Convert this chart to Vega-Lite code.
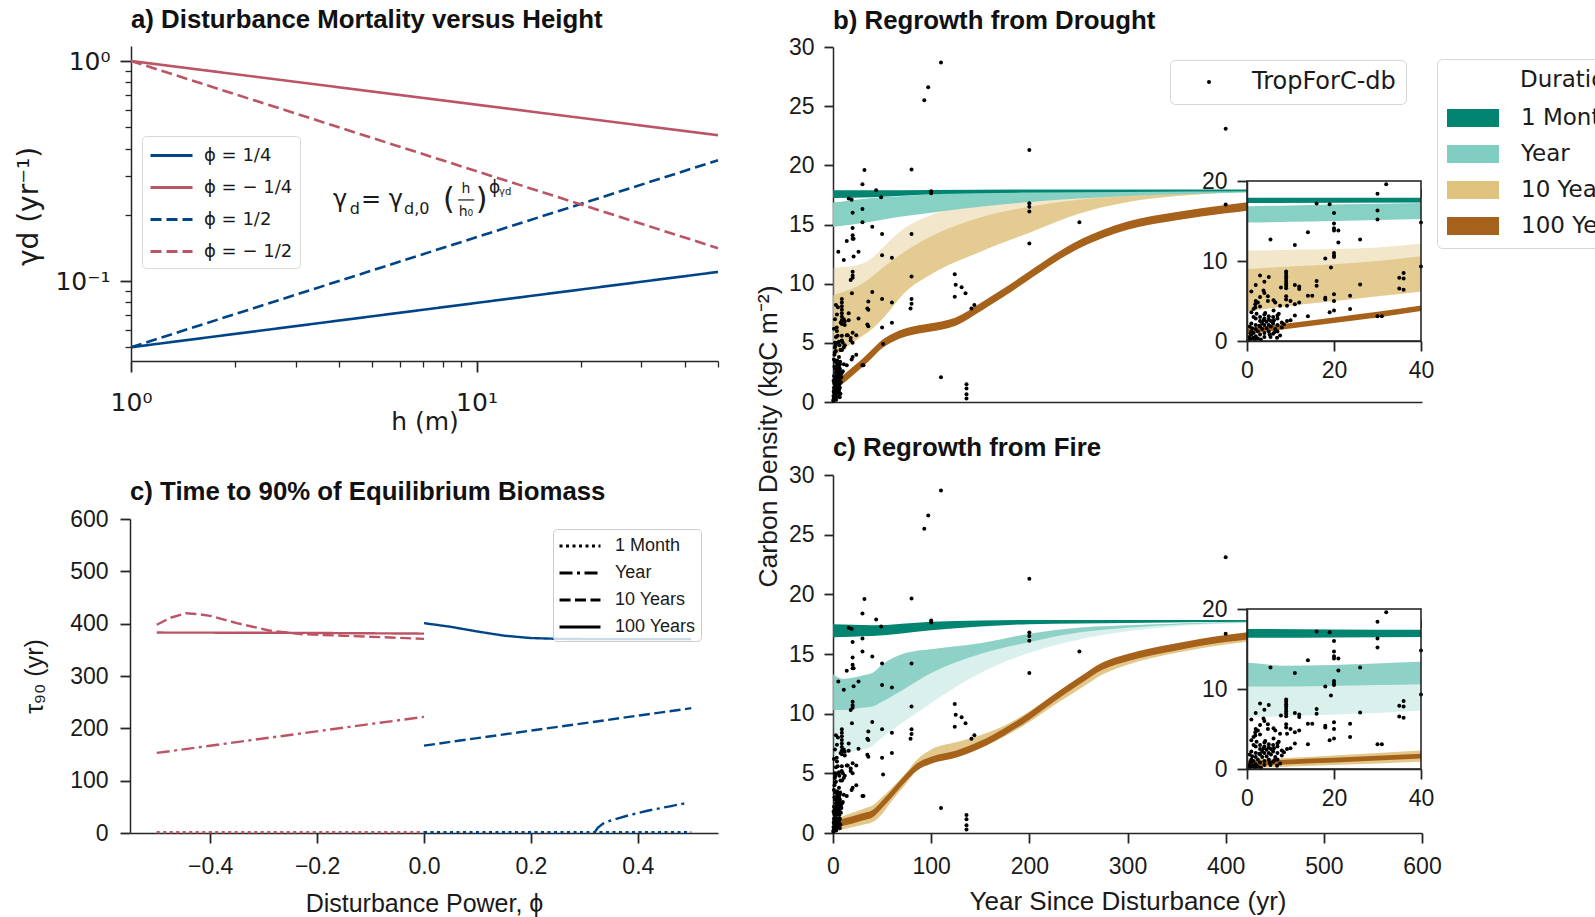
{
  "$schema": "https://vega.github.io/schema/vega-lite/v6.json",
  "width": 1595,
  "height": 917,
  "autosize": {"type": "none"},
  "padding": 0,
  "background": "white",
  "usermeta": {"embedOptions": {"actions": false}},
  "config": {
    "font": "Liberation Sans",
    "view": {"stroke": null},
    "axis": {"grid": false, "labelFlush": false, "labelOverlap": false, "labelBound": false, "domainColor": "#262626", "tickColor": "#262626", "labelColor": "#1a1a1a", "titleColor": "#1a1a1a", "titleFontWeight": "normal", "domainWidth": 1.5, "tickWidth": 1.6, "labelFont": "Liberation Sans", "titleFont": "Liberation Sans"},
    "legend": {"labelColor": "#1a1a1a", "titleColor": "#1a1a1a"}
  },
  "datasets": {
    "a_lines": [
      {"phi": "ϕ = 1/4", "h": 1, "g": 0.05}, {"phi": "ϕ = 1/4", "h": 50, "g": 0.11},
      {"phi": "ϕ = − 1/4", "h": 1, "g": 1.0}, {"phi": "ϕ = − 1/4", "h": 50, "g": 0.46},
      {"phi": "ϕ = 1/2", "h": 1, "g": 0.05}, {"phi": "ϕ = 1/2", "h": 50, "g": 0.354},
      {"phi": "ϕ = − 1/2", "h": 1, "g": 1.0}, {"phi": "ϕ = − 1/2", "h": 50, "g": 0.141}
    ],
    "formula": [
      {"k": "big", "t": "γ", "h": 3.84, "g": 0.234},
      {"k": "big", "t": "= γ", "h": 4.63, "g": 0.234},
      {"k": "paren", "t": "(", "h": 8.0, "g": 0.234},
      {"k": "paren", "t": ")", "h": 9.95, "g": 0.234},
      {"k": "sub", "t": "d", "h": 4.3, "g": 0.2125},
      {"k": "sub", "t": "d,0", "h": 6.17, "g": 0.2125},
      {"k": "frac", "t": "h", "h": 9.32, "g": 0.262},
      {"k": "frac", "t": "h₀", "h": 9.32, "g": 0.205},
      {"k": "sup", "t": "ϕ", "h": 10.87, "g": 0.2647},
      {"k": "tiny", "t": "γd", "h": 11.62, "g": 0.2538}
    ],
    "fracbar": [{"h": 8.85, "h2": 9.85, "g": 0.2336}],
    "titles": [
      {"p": "a", "txt": "a) Disturbance Mortality versus Height"},
      {"p": "c", "txt": "c) Time to 90% of Equilibrium Biomass"},
      {"p": "b", "txt": "b) Regrowth from Drought"},
      {"p": "d", "txt": "c) Regrowth from Fire"}
    ],
    "c_lines": [
      {"sgn": "neg", "dur": "100 Years", "phi": -0.5, "tau": 383}, {"sgn": "neg", "dur": "100 Years", "phi": -0.25, "tau": 382.5}, {"sgn": "neg", "dur": "100 Years", "phi": 0, "tau": 381},
      {"sgn": "neg", "dur": "10 Years", "phi": -0.5, "tau": 398}, {"sgn": "neg", "dur": "10 Years", "phi": -0.475, "tau": 411}, {"sgn": "neg", "dur": "10 Years", "phi": -0.445, "tau": 420}, {"sgn": "neg", "dur": "10 Years", "phi": -0.42, "tau": 418}, {"sgn": "neg", "dur": "10 Years", "phi": -0.4, "tau": 415}, {"sgn": "neg", "dur": "10 Years", "phi": -0.35, "tau": 401}, {"sgn": "neg", "dur": "10 Years", "phi": -0.29, "tau": 387}, {"sgn": "neg", "dur": "10 Years", "phi": -0.23, "tau": 380}, {"sgn": "neg", "dur": "10 Years", "phi": -0.15, "tau": 377}, {"sgn": "neg", "dur": "10 Years", "phi": -0.05, "tau": 373}, {"sgn": "neg", "dur": "10 Years", "phi": 0, "tau": 371},
      {"sgn": "neg", "dur": "Year", "phi": -0.5, "tau": 153}, {"sgn": "neg", "dur": "Year", "phi": 0, "tau": 222},
      {"sgn": "neg", "dur": "1 Month", "phi": -0.5, "tau": 1.5}, {"sgn": "neg", "dur": "1 Month", "phi": 0, "tau": 1.5},
      {"sgn": "pos", "dur": "100 Years", "phi": 0, "tau": 401}, {"sgn": "pos", "dur": "100 Years", "phi": 0.05, "tau": 394}, {"sgn": "pos", "dur": "100 Years", "phi": 0.1, "tau": 385}, {"sgn": "pos", "dur": "100 Years", "phi": 0.15, "tau": 377}, {"sgn": "pos", "dur": "100 Years", "phi": 0.2, "tau": 372.5}, {"sgn": "pos", "dur": "100 Years", "phi": 0.25, "tau": 371}, {"sgn": "pos", "dur": "100 Years", "phi": 0.3, "tau": 370.5}, {"sgn": "pos", "dur": "100 Years", "phi": 0.4, "tau": 370.5}, {"sgn": "pos", "dur": "100 Years", "phi": 0.5, "tau": 370.5},
      {"sgn": "pos", "dur": "10 Years", "phi": 0, "tau": 167}, {"sgn": "pos", "dur": "10 Years", "phi": 0.5, "tau": 238.5},
      {"sgn": "pos", "dur": "Year", "phi": 0.32, "tau": 2}, {"sgn": "pos", "dur": "Year", "phi": 0.325, "tau": 10}, {"sgn": "pos", "dur": "Year", "phi": 0.335, "tau": 18}, {"sgn": "pos", "dur": "Year", "phi": 0.35, "tau": 24}, {"sgn": "pos", "dur": "Year", "phi": 0.38, "tau": 33}, {"sgn": "pos", "dur": "Year", "phi": 0.42, "tau": 43}, {"sgn": "pos", "dur": "Year", "phi": 0.46, "tau": 51}, {"sgn": "pos", "dur": "Year", "phi": 0.49, "tau": 57},
      {"sgn": "pos", "dur": "1 Month", "phi": 0, "tau": 1.5}, {"sgn": "pos", "dur": "1 Month", "phi": 0.5, "tau": 1.5}
    ],
    "bands": [
      {"p": "b", "dur": "1 Month", "t": 0, "lo": 17.25, "hi": 17.9}, {"p": "b", "dur": "1 Month", "t": 40, "lo": 17.3, "hi": 17.9}, {"p": "b", "dur": "1 Month", "t": 100, "lo": 17.55, "hi": 17.92}, {"p": "b", "dur": "1 Month", "t": 200, "lo": 17.7, "hi": 17.95}, {"p": "b", "dur": "1 Month", "t": 300, "lo": 17.75, "hi": 17.95}, {"p": "b", "dur": "1 Month", "t": 420, "lo": 17.8, "hi": 17.95}, {"p": "b", "dur": "1 Month", "t": 600, "lo": 17.85, "hi": 17.95},
      {"p": "b", "dur": "Year", "t": 0, "lo": 14.8, "hi": 16.85}, {"p": "b", "dur": "Year", "t": 10, "lo": 14.9, "hi": 16.95}, {"p": "b", "dur": "Year", "t": 20, "lo": 15.0, "hi": 17.05}, {"p": "b", "dur": "Year", "t": 40, "lo": 15.25, "hi": 17.25}, {"p": "b", "dur": "Year", "t": 60, "lo": 15.55, "hi": 17.35}, {"p": "b", "dur": "Year", "t": 100, "lo": 16.0, "hi": 17.55}, {"p": "b", "dur": "Year", "t": 150, "lo": 16.5, "hi": 17.7}, {"p": "b", "dur": "Year", "t": 200, "lo": 16.9, "hi": 17.8}, {"p": "b", "dur": "Year", "t": 300, "lo": 17.4, "hi": 17.9}, {"p": "b", "dur": "Year", "t": 420, "lo": 17.7, "hi": 17.9}, {"p": "b", "dur": "Year", "t": 600, "lo": 17.85, "hi": 17.95},
      {"p": "b", "dur": "10 Years", "t": 0, "lo": 3.7, "mid": 9.0, "hi": 11.3}, {"p": "b", "dur": "10 Years", "t": 10, "lo": 4.4, "mid": 9.3, "hi": 11.4}, {"p": "b", "dur": "10 Years", "t": 20, "lo": 5.0, "mid": 9.6, "hi": 11.5}, {"p": "b", "dur": "10 Years", "t": 30, "lo": 5.6, "mid": 10.0, "hi": 11.7}, {"p": "b", "dur": "10 Years", "t": 40, "lo": 6.2, "mid": 10.6, "hi": 12.2}, {"p": "b", "dur": "10 Years", "t": 50, "lo": 7.0, "mid": 11.3, "hi": 13.0}, {"p": "b", "dur": "10 Years", "t": 75, "lo": 9.4, "mid": 12.8, "hi": 14.8}, {"p": "b", "dur": "10 Years", "t": 100, "lo": 10.8, "mid": 14.0, "hi": 15.8}, {"p": "b", "dur": "10 Years", "t": 150, "lo": 12.7, "mid": 15.6, "hi": 16.9}, {"p": "b", "dur": "10 Years", "t": 200, "lo": 14.3, "mid": 16.5, "hi": 17.3}, {"p": "b", "dur": "10 Years", "t": 250, "lo": 15.9, "mid": 17.1, "hi": 17.5}, {"p": "b", "dur": "10 Years", "t": 300, "lo": 16.9, "mid": 17.4, "hi": 17.6}, {"p": "b", "dur": "10 Years", "t": 350, "lo": 17.4, "mid": 17.6, "hi": 17.7}, {"p": "b", "dur": "10 Years", "t": 420, "lo": 17.75, "mid": 17.8, "hi": 17.85}, {"p": "b", "dur": "10 Years", "t": 600, "lo": 17.9, "mid": 17.9, "hi": 17.95},
      {"p": "b", "dur": "100 Years", "t": 0, "lo": 0.85, "hi": 1.55}, {"p": "b", "dur": "100 Years", "t": 10, "lo": 1.55, "hi": 2.25}, {"p": "b", "dur": "100 Years", "t": 20, "lo": 2.25, "hi": 2.95}, {"p": "b", "dur": "100 Years", "t": 30, "lo": 2.95, "hi": 3.65}, {"p": "b", "dur": "100 Years", "t": 40, "lo": 3.75, "hi": 4.45}, {"p": "b", "dur": "100 Years", "t": 50, "lo": 4.55, "hi": 5.25}, {"p": "b", "dur": "100 Years", "t": 60, "lo": 5.05, "hi": 5.75}, {"p": "b", "dur": "100 Years", "t": 75, "lo": 5.55, "hi": 6.25}, {"p": "b", "dur": "100 Years", "t": 100, "lo": 5.95, "hi": 6.65}, {"p": "b", "dur": "100 Years", "t": 125, "lo": 6.45, "hi": 7.15}, {"p": "b", "dur": "100 Years", "t": 150, "lo": 7.65, "hi": 8.35}, {"p": "b", "dur": "100 Years", "t": 175, "lo": 8.95, "hi": 9.65}, {"p": "b", "dur": "100 Years", "t": 200, "lo": 10.35, "hi": 11.05}, {"p": "b", "dur": "100 Years", "t": 225, "lo": 11.75, "hi": 12.45}, {"p": "b", "dur": "100 Years", "t": 250, "lo": 12.95, "hi": 13.65}, {"p": "b", "dur": "100 Years", "t": 275, "lo": 13.85, "hi": 14.55}, {"p": "b", "dur": "100 Years", "t": 300, "lo": 14.55, "hi": 15.25}, {"p": "b", "dur": "100 Years", "t": 350, "lo": 15.35, "hi": 16.05}, {"p": "b", "dur": "100 Years", "t": 400, "lo": 15.95, "hi": 16.65}, {"p": "b", "dur": "100 Years", "t": 420, "lo": 16.15, "hi": 16.85}, {"p": "b", "dur": "100 Years", "t": 600, "lo": 17.25, "hi": 17.95},
      {"p": "d", "dur": "1 Month", "t": 0, "lo": 16.4, "hi": 17.5}, {"p": "d", "dur": "1 Month", "t": 20, "lo": 16.45, "hi": 17.45}, {"p": "d", "dur": "1 Month", "t": 40, "lo": 16.5, "hi": 17.4}, {"p": "d", "dur": "1 Month", "t": 100, "lo": 17.0, "hi": 17.7}, {"p": "d", "dur": "1 Month", "t": 150, "lo": 17.3, "hi": 17.8}, {"p": "d", "dur": "1 Month", "t": 200, "lo": 17.5, "hi": 17.85}, {"p": "d", "dur": "1 Month", "t": 300, "lo": 17.6, "hi": 17.85}, {"p": "d", "dur": "1 Month", "t": 420, "lo": 17.7, "hi": 17.85}, {"p": "d", "dur": "1 Month", "t": 600, "lo": 17.8, "hi": 17.9},
      {"p": "d", "dur": "Year", "t": 0, "lo": 6.5, "mid": 10.3, "hi": 13.3}, {"p": "d", "dur": "Year", "t": 10, "lo": 6.6, "mid": 10.3, "hi": 12.9}, {"p": "d", "dur": "Year", "t": 20, "lo": 6.8, "mid": 10.4, "hi": 13.0}, {"p": "d", "dur": "Year", "t": 30, "lo": 7.0, "mid": 10.5, "hi": 13.2}, {"p": "d", "dur": "Year", "t": 40, "lo": 7.3, "mid": 10.6, "hi": 13.4}, {"p": "d", "dur": "Year", "t": 50, "lo": 8.0, "mid": 11.0, "hi": 14.1}, {"p": "d", "dur": "Year", "t": 75, "lo": 9.5, "mid": 12.2, "hi": 15.1}, {"p": "d", "dur": "Year", "t": 100, "lo": 10.9, "mid": 13.4, "hi": 15.4}, {"p": "d", "dur": "Year", "t": 150, "lo": 13.4, "mid": 15.0, "hi": 15.9}, {"p": "d", "dur": "Year", "t": 200, "lo": 15.1, "mid": 16.0, "hi": 16.7}, {"p": "d", "dur": "Year", "t": 250, "lo": 16.2, "mid": 16.8, "hi": 17.2}, {"p": "d", "dur": "Year", "t": 300, "lo": 16.9, "mid": 17.2, "hi": 17.4}, {"p": "d", "dur": "Year", "t": 420, "lo": 17.6, "mid": 17.65, "hi": 17.7}, {"p": "d", "dur": "Year", "t": 600, "lo": 17.85, "mid": 17.85, "hi": 17.9},
      {"p": "d", "dur": "10 Years", "t": 0, "lo": 0.1, "hi": 1.2}, {"p": "d", "dur": "10 Years", "t": 10, "lo": 0.3, "hi": 1.4}, {"p": "d", "dur": "10 Years", "t": 20, "lo": 0.5, "hi": 1.7}, {"p": "d", "dur": "10 Years", "t": 30, "lo": 0.7, "hi": 2.0}, {"p": "d", "dur": "10 Years", "t": 40, "lo": 0.9, "hi": 2.3}, {"p": "d", "dur": "10 Years", "t": 50, "lo": 1.6, "hi": 3.0}, {"p": "d", "dur": "10 Years", "t": 60, "lo": 2.7, "hi": 3.8}, {"p": "d", "dur": "10 Years", "t": 75, "lo": 4.2, "hi": 5.1}, {"p": "d", "dur": "10 Years", "t": 85, "lo": 5.2, "hi": 6.1}, {"p": "d", "dur": "10 Years", "t": 100, "lo": 5.9, "hi": 7.0}, {"p": "d", "dur": "10 Years", "t": 125, "lo": 6.4, "hi": 7.6}, {"p": "d", "dur": "10 Years", "t": 150, "lo": 7.1, "hi": 8.2}, {"p": "d", "dur": "10 Years", "t": 175, "lo": 8.1, "hi": 9.0}, {"p": "d", "dur": "10 Years", "t": 200, "lo": 9.3, "hi": 10.2}, {"p": "d", "dur": "10 Years", "t": 225, "lo": 10.7, "hi": 11.6}, {"p": "d", "dur": "10 Years", "t": 250, "lo": 12.0, "hi": 12.9}, {"p": "d", "dur": "10 Years", "t": 275, "lo": 13.3, "hi": 14.1}, {"p": "d", "dur": "10 Years", "t": 300, "lo": 14.1, "hi": 14.8}, {"p": "d", "dur": "10 Years", "t": 350, "lo": 15.1, "hi": 15.6}, {"p": "d", "dur": "10 Years", "t": 400, "lo": 15.8, "hi": 16.3}, {"p": "d", "dur": "10 Years", "t": 420, "lo": 16.0, "hi": 16.5}, {"p": "d", "dur": "10 Years", "t": 600, "lo": 17.3, "hi": 17.6},
      {"p": "d", "dur": "100 Years", "t": 0, "lo": 0.4, "hi": 1.0}, {"p": "d", "dur": "100 Years", "t": 10, "lo": 0.6, "hi": 1.2}, {"p": "d", "dur": "100 Years", "t": 20, "lo": 0.8, "hi": 1.4}, {"p": "d", "dur": "100 Years", "t": 30, "lo": 1.05, "hi": 1.65}, {"p": "d", "dur": "100 Years", "t": 40, "lo": 1.3, "hi": 1.9}, {"p": "d", "dur": "100 Years", "t": 50, "lo": 2.1, "hi": 2.7}, {"p": "d", "dur": "100 Years", "t": 60, "lo": 3.0, "hi": 3.6}, {"p": "d", "dur": "100 Years", "t": 75, "lo": 4.4, "hi": 5.0}, {"p": "d", "dur": "100 Years", "t": 85, "lo": 5.2, "hi": 5.8}, {"p": "d", "dur": "100 Years", "t": 100, "lo": 5.8, "hi": 6.4}, {"p": "d", "dur": "100 Years", "t": 125, "lo": 6.3, "hi": 6.9}, {"p": "d", "dur": "100 Years", "t": 150, "lo": 7.1, "hi": 7.7}, {"p": "d", "dur": "100 Years", "t": 175, "lo": 8.2, "hi": 8.8}, {"p": "d", "dur": "100 Years", "t": 200, "lo": 9.5, "hi": 10.1}, {"p": "d", "dur": "100 Years", "t": 225, "lo": 11.0, "hi": 11.6}, {"p": "d", "dur": "100 Years", "t": 250, "lo": 12.4, "hi": 13.0}, {"p": "d", "dur": "100 Years", "t": 275, "lo": 13.7, "hi": 14.3}, {"p": "d", "dur": "100 Years", "t": 300, "lo": 14.4, "hi": 15.0}, {"p": "d", "dur": "100 Years", "t": 350, "lo": 15.3, "hi": 15.9}, {"p": "d", "dur": "100 Years", "t": 400, "lo": 16.0, "hi": 16.6}, {"p": "d", "dur": "100 Years", "t": 420, "lo": 16.2, "hi": 16.8}, {"p": "d", "dur": "100 Years", "t": 600, "lo": 17.2, "hi": 17.8}
    ],
    "scatter": [
      {"t": 110, "v": 28.7}, {"t": 97, "v": 26.6}, {"t": 93, "v": 25.5}, {"t": 400, "v": 23.1}, {"t": 200, "v": 21.3}, {"t": 32, "v": 19.6}, {"t": 80, "v": 19.65}, {"t": 30, "v": 18.4}, {"t": 44, "v": 17.9}, {"t": 100, "v": 17.8}, {"t": 100, "v": 17.65}, {"t": 49, "v": 17.3}, {"t": 16, "v": 17.2}, {"t": 19, "v": 17.1}, {"t": 200, "v": 16.8}, {"t": 200, "v": 16.5}, {"t": 200, "v": 16.1}, {"t": 400, "v": 16.7}, {"t": 20, "v": 16.0}, {"t": 30, "v": 16.3}, {"t": 30, "v": 15.2}, {"t": 251, "v": 15.2}, {"t": 20, "v": 14.7}, {"t": 40, "v": 14.8}, {"t": 50, "v": 14.2}, {"t": 80, "v": 14.2}, {"t": 20, "v": 14.1}, {"t": 20, "v": 13.8}, {"t": 21, "v": 13.8}, {"t": 14, "v": 13.6}, {"t": 200, "v": 13.4}, {"t": 5.4, "v": 12.7}, {"t": 26, "v": 12.7}, {"t": 21, "v": 12.3}, {"t": 11, "v": 12.0}, {"t": 60, "v": 12.2}, {"t": 50, "v": 12.4}, {"t": 20, "v": 11.0}, {"t": 20, "v": 10.7}, {"t": 20, "v": 10.5}, {"t": 18, "v": 10.3}, {"t": 124, "v": 10.8}, {"t": 80, "v": 10.6}, {"t": 125, "v": 9.9}, {"t": 131, "v": 9.7}, {"t": 124, "v": 8.9}, {"t": 135, "v": 9.2}, {"t": 19.3, "v": 9.2}, {"t": 40, "v": 9.3}, {"t": 36, "v": 8.5}, {"t": 50, "v": 8.7}, {"t": 80, "v": 8.7}, {"t": 80, "v": 8.3}, {"t": 79, "v": 7.9}, {"t": 60, "v": 8.4}, {"t": 144, "v": 8.2}, {"t": 141, "v": 7.9}, {"t": 36, "v": 7.8}, {"t": 35, "v": 7.9}, {"t": 35, "v": 6.55}, {"t": 26, "v": 7.05}, {"t": 16, "v": 7.5}, {"t": 16, "v": 6.9}, {"t": 60, "v": 6.7}, {"t": 36, "v": 6.4}, {"t": 50, "v": 6.3}, {"t": 51, "v": 4.9}, {"t": 31, "v": 3.1}, {"t": 110, "v": 2.1}, {"t": 136, "v": 1.5}, {"t": 136, "v": 1.15}, {"t": 136, "v": 0.65}, {"t": 136, "v": 0.3},
      {"t": 5, "v": 8.0}, {"t": 9, "v": 8.7}, {"t": 9, "v": 8.4}, {"t": 9, "v": 8.1}, {"t": 9, "v": 7.8}, {"t": 9, "v": 7.5}, {"t": 9, "v": 7.2}, {"t": 9, "v": 6.9}, {"t": 9, "v": 6.6}, {"t": 3.8, "v": 6.3}, {"t": 7.8, "v": 6.7}, {"t": 11, "v": 7.0}, {"t": 12, "v": 6.8}, {"t": 12, "v": 6.5}, {"t": 4.8, "v": 5.6}, {"t": 4.8, "v": 5.0}, {"t": 6.1, "v": 5.1}, {"t": 6.5, "v": 4.8}, {"t": 9, "v": 5.6}, {"t": 9, "v": 5.2}, {"t": 14, "v": 5.65}, {"t": 15, "v": 5.65}, {"t": 18, "v": 5.4}, {"t": 18, "v": 5.2}, {"t": 20, "v": 5.85}, {"t": 20, "v": 5.0}, {"t": 23.7, "v": 5.65}, {"t": 10, "v": 5.0}, {"t": 11, "v": 4.6}, {"t": 12, "v": 4.8}, {"t": 1.9, "v": 4.6}, {"t": 1.9, "v": 4.2}, {"t": 7.6, "v": 4.4}, {"t": 9.2, "v": 4.4}, {"t": 20, "v": 3.8}, {"t": 19, "v": 3.6}, {"t": 23.7, "v": 4.0}, {"t": 6.1, "v": 3.8}, {"t": 14, "v": 3.1}, {"t": 30, "v": 3.1}, {"t": 11, "v": 3.2}, {"t": 10, "v": 2.6}, {"t": 9.2, "v": 2.5}, {"t": 7, "v": 3.2}, {"t": 7, "v": 2.8}, {"t": 5.4, "v": 0.5}, {"t": 6.9, "v": 0.4}, {"t": 7.6, "v": 0.7}, {"t": 6.3, "v": 1.1}, {"t": 8, "v": 1.7},
      {"t": 0.5, "v": 0.2}, {"t": 0.5, "v": 0.5}, {"t": 1, "v": 0.3}, {"t": 1, "v": 0.8}, {"t": 1, "v": 1.2}, {"t": 1.5, "v": 0.4}, {"t": 1.5, "v": 1.0}, {"t": 2, "v": 0.6}, {"t": 2, "v": 1.5}, {"t": 2, "v": 2.0}, {"t": 2.5, "v": 0.3}, {"t": 2.5, "v": 1.2}, {"t": 3, "v": 0.8}, {"t": 3, "v": 1.8}, {"t": 3, "v": 2.5}, {"t": 3, "v": 3.0}, {"t": 3.5, "v": 1.5}, {"t": 3.5, "v": 2.2}, {"t": 4, "v": 0.5}, {"t": 4, "v": 1.0}, {"t": 4, "v": 2.0}, {"t": 4, "v": 2.8}, {"t": 4, "v": 3.3}, {"t": 4.5, "v": 1.6}, {"t": 4.5, "v": 2.4}, {"t": 5, "v": 1.2}, {"t": 5, "v": 2.0}, {"t": 5, "v": 2.7}, {"t": 5, "v": 3.1}, {"t": 5.5, "v": 1.8}, {"t": 5.5, "v": 2.5}, {"t": 6, "v": 0.9}, {"t": 6, "v": 2.2}, {"t": 6, "v": 3.0}, {"t": 6.5, "v": 1.5}, {"t": 7, "v": 2.0}, {"t": 7, "v": 1.2}, {"t": 8, "v": 2.3}, {"t": 1, "v": 2.2}, {"t": 2, "v": 2.8}, {"t": 0.3, "v": 0.1}, {"t": 0.8, "v": 0.9}, {"t": 1.2, "v": 1.6}, {"t": 1.8, "v": 0.2}, {"t": 2.2, "v": 3.4}, {"t": 3.2, "v": 0.2}, {"t": 4.2, "v": 3.5}, {"t": 5.2, "v": 0.8}, {"t": 3.8, "v": 2.6}, {"t": 2.8, "v": 1.9}, {"t": 6.2, "v": 2.6}, {"t": 7.3, "v": 3.4}, {"t": 8.5, "v": 2.1}, {"t": 1.5, "v": 3.0}, {"t": 0.6, "v": 1.8}, {"t": 2, "v": 5.0}, {"t": 3, "v": 5.5}, {"t": 4, "v": 6.0}, {"t": 1.5, "v": 4.0}, {"t": 2.5, "v": 4.8}, {"t": 3, "v": 4.3}, {"t": 1, "v": 3.6}, {"t": 2, "v": 7.0}, {"t": 4, "v": 7.4}, {"t": 1, "v": 6.2}, {"t": 3, "v": 8.2}
    ]
  },
  "resolve": {
    "scale": {"x": "independent", "y": "independent", "color": "independent", "strokeDash": "independent", "shape": "independent"},
    "axis": {"x": "independent", "y": "independent"}
  },
  "layer": [
    {
      "resolve": {"axis": {"x": "independent", "y": "independent"}},
      "layer": [
        {
          "data": {"name": "a_lines"},
          "mark": {"type": "line", "strokeWidth": 2.6},
          "encoding": {
            "x": {"field": "h", "type": "quantitative",
              "scale": {"type": "log", "domain": [1, 50], "range": [131, 718], "nice": false},
              "axis": {"orient": "bottom", "offset": -556, "values": [1, 10], "labelExpr": "datum.value < 5 ? '10⁰' : '10¹'", "tickSize": 11, "tickWidth": 1.8, "labelFont": "DejaVu Sans", "labelFontSize": 25, "labelPadding": 18, "title": "h (m)", "titleFont": "DejaVu Sans", "titleFontSize": 25, "titleY": 60, "titleBaseline": "middle"}},
            "y": {"field": "g", "type": "quantitative",
              "scale": {"type": "log", "domain": [0.0433, 1.17], "range": [361, 46], "nice": false},
              "axis": {"orient": "left", "offset": -131, "values": [0.1, 1], "labelExpr": "datum.value > 0.5 ? '10⁰' : '10⁻¹'", "tickSize": 11, "tickWidth": 1.8, "labelFont": "DejaVu Sans", "labelFontSize": 25, "labelPadding": 10, "title": "γd (yr⁻¹)", "titleFont": "DejaVu Sans", "titleFontSize": 28, "titleX": -102, "titleY": 206, "titleBaseline": "middle"}},
            "color": {"field": "phi", "type": "nominal",
              "scale": {"domain": ["ϕ = 1/4", "ϕ = − 1/4", "ϕ = 1/2", "ϕ = − 1/2"], "range": ["#004488", "#BB5566", "#004488", "#BB5566"]},
              "legend": {"orient": "none", "legendX": 142, "legendY": 136, "title": null, "symbolType": "M-2,0H2", "symbolSize": 441, "symbolStrokeWidth": 3.2, "symbolOffset": 10, "labelFont": "DejaVu Sans", "labelFontSize": 18, "labelOffset": 20, "rowPadding": 10, "padding": 7, "fillColor": "white", "strokeColor": "#d9d9d9", "cornerRadius": 4}},
            "strokeDash": {"field": "phi", "type": "nominal",
              "scale": {"domain": ["ϕ = 1/4", "ϕ = − 1/4", "ϕ = 1/2", "ϕ = − 1/2"], "range": [[1, 0], [1, 0], [11, 5], [11, 5]]},
              "legend": {"orient": "none", "legendX": 142, "legendY": 136, "title": null, "symbolType": "M-2,0H2", "symbolSize": 441, "symbolStrokeWidth": 3.2, "symbolOffset": 10, "labelFont": "DejaVu Sans", "labelFontSize": 18, "labelOffset": 20, "rowPadding": 10, "padding": 7, "fillColor": "white", "strokeColor": "#d9d9d9", "cornerRadius": 4}}
          }
        },
        {
          "data": {"name": "formula"},
          "transform": [{"filter": "datum.k == 'big'"}],
          "mark": {"type": "text", "align": "left", "baseline": "middle", "font": "DejaVu Sans", "fontSize": 24, "color": "#1a1a1a"},
          "encoding": {
            "x": {"field": "h", "type": "quantitative", "axis": {"orient": "bottom", "offset": -556, "values": [2, 3, 4, 5, 6, 7, 8, 9, 20, 30, 40, 50], "labels": false, "domain": false, "tickSize": 6, "tickWidth": 1.3, "title": null}},
            "y": {"field": "g", "type": "quantitative", "axis": {"orient": "left", "offset": -131, "values": [0.05, 0.06, 0.07, 0.08, 0.09, 0.2, 0.3, 0.4, 0.5, 0.6, 0.7, 0.8, 0.9], "labels": false, "domain": false, "tickSize": 6, "tickWidth": 1.3, "title": null}},
            "text": {"field": "t"}
          }
        },
        {
          "data": {"name": "formula"},
          "transform": [{"filter": "datum.k == 'paren'"}],
          "mark": {"type": "text", "align": "left", "baseline": "middle", "font": "DejaVu Sans", "fontSize": 30, "color": "#1a1a1a"},
          "encoding": {"x": {"field": "h", "type": "quantitative", "axis": null}, "y": {"field": "g", "type": "quantitative", "axis": null}, "text": {"field": "t"}}
        },
        {
          "data": {"name": "formula"},
          "transform": [{"filter": "datum.k == 'sub'"}],
          "mark": {"type": "text", "align": "left", "baseline": "middle", "font": "DejaVu Sans", "fontSize": 16, "color": "#1a1a1a"},
          "encoding": {"x": {"field": "h", "type": "quantitative", "axis": null}, "y": {"field": "g", "type": "quantitative", "axis": null}, "text": {"field": "t"}}
        },
        {
          "data": {"name": "formula"},
          "transform": [{"filter": "datum.k == 'frac'"}],
          "mark": {"type": "text", "align": "center", "baseline": "middle", "font": "DejaVu Sans", "fontSize": 14, "color": "#1a1a1a"},
          "encoding": {"x": {"field": "h", "type": "quantitative", "axis": null}, "y": {"field": "g", "type": "quantitative", "axis": null}, "text": {"field": "t"}}
        },
        {
          "data": {"name": "formula"},
          "transform": [{"filter": "datum.k == 'sup'"}],
          "mark": {"type": "text", "align": "left", "baseline": "middle", "font": "DejaVu Sans", "fontSize": 17, "color": "#1a1a1a"},
          "encoding": {"x": {"field": "h", "type": "quantitative", "axis": null}, "y": {"field": "g", "type": "quantitative", "axis": null}, "text": {"field": "t"}}
        },
        {
          "data": {"name": "formula"},
          "transform": [{"filter": "datum.k == 'tiny'"}],
          "mark": {"type": "text", "align": "left", "baseline": "middle", "font": "DejaVu Sans", "fontSize": 10, "color": "#1a1a1a"},
          "encoding": {"x": {"field": "h", "type": "quantitative", "axis": null}, "y": {"field": "g", "type": "quantitative", "axis": null}, "text": {"field": "t"}}
        },
        {
          "data": {"name": "fracbar"},
          "mark": {"type": "rule", "strokeWidth": 1.2, "color": "#1a1a1a"},
          "encoding": {"x": {"field": "h", "type": "quantitative", "axis": null}, "x2": {"field": "h2"}, "y": {"field": "g", "type": "quantitative", "axis": null}}
        },
        {
          "data": {"name": "titles"},
          "transform": [{"filter": "datum.p == 'a'"}],
          "mark": {"type": "text", "align": "left", "baseline": "middle", "fontSize": 25.8, "fontWeight": "bold", "color": "#111111"},
          "encoding": {"x": {"datum": 1, "type": "quantitative", "axis": null}, "y": {"datum": 1.536, "type": "quantitative", "axis": null}, "text": {"field": "txt"}}
        }
      ]
    },
    {
      "resolve": {"axis": {"x": "independent", "y": "independent"}},
      "layer": [
        {
          "data": {"name": "c_lines"},
          "mark": {"type": "line", "strokeWidth": 2.4},
          "encoding": {
            "x": {"field": "phi", "type": "quantitative",
              "scale": {"domain": [-0.55, 0.55], "range": [130, 718], "nice": false, "zero": false},
              "axis": {"orient": "bottom", "offset": -84, "values": [-0.4, -0.2, 0, 0.2, 0.4], "labelExpr": "replace(format(datum.value, '.1f'), '-', '−')", "tickSize": 10, "tickWidth": 1.8, "labelFontSize": 23, "labelPadding": 12, "title": "Disturbance Power, ϕ", "titleFontSize": 25, "titleY": 70, "titleBaseline": "middle"}},
            "y": {"field": "tau", "type": "quantitative",
              "scale": {"domain": [0, 600], "range": [833, 519], "nice": false, "zero": false},
              "axis": {"orient": "left", "offset": -130, "values": [0, 100, 200, 300, 400, 500, 600], "tickSize": 10, "tickWidth": 1.8, "labelFontSize": 23, "labelPadding": 12, "title": "τ₉₀ (yr)", "titleFontSize": 25, "titleX": -96, "titleY": 676, "titleBaseline": "middle"}},
            "color": {"field": "sgn", "type": "nominal", "scale": {"domain": ["neg", "pos"], "range": ["#BB5566", "#004488"]}, "legend": null},
            "strokeDash": {"field": "dur", "type": "nominal",
              "scale": {"domain": ["1 Month", "Year", "10 Years", "100 Years"], "range": [[3, 3.5], [13, 4.5, 3, 4.5], [11, 4.5], [1, 0]]},
              "legend": {"orient": "none", "legendX": 553, "legendY": 529, "title": null, "symbolType": "M-2,0H2", "symbolSize": 420, "symbolStrokeWidth": 2.8, "symbolStrokeColor": "black", "symbolOffset": 10, "labelFontSize": 18, "labelOffset": 23, "rowPadding": 6, "padding": 5, "fillColor": "rgba(255,255,255,0.8)", "strokeColor": "#cccccc", "cornerRadius": 4}}
          }
        },
        {
          "data": {"name": "titles"},
          "transform": [{"filter": "datum.p == 'c'"}],
          "mark": {"type": "text", "align": "left", "baseline": "middle", "fontSize": 25.8, "fontWeight": "bold", "color": "#111111"},
          "encoding": {"x": {"datum": -0.55, "type": "quantitative", "axis": null}, "y": {"datum": 651.6, "type": "quantitative", "axis": null}, "text": {"field": "txt"}}
        }
      ]
    },
    {
      "resolve": {"axis": {"x": "independent", "y": "independent"}},
      "layer": [
        {
          "data": {"name": "bands"},
          "transform": [{"filter": "datum.p == 'b' && datum.dur == '100 Years'"}],
          "mark": {"type": "area", "interpolate": "monotone"},
          "encoding": {
            "x": {"field": "t", "type": "quantitative",
              "scale": {"domain": [0, 600], "range": [833, 1422], "nice": false, "zero": false},
              "axis": {"orient": "bottom", "offset": -515, "ticks": false, "labels": false, "title": null}},
            "y": {"field": "lo", "type": "quantitative",
              "scale": {"domain": [0, 30], "range": [402, 47], "nice": false, "zero": false},
              "axis": {"orient": "left", "offset": -833, "values": [0, 5, 10, 15, 20, 25, 30], "tickSize": 9, "tickWidth": 1.8, "labelFontSize": 23, "labelPadding": 10, "title": "Carbon Density (kgC m⁻²)", "titleFontSize": 26.5, "titleX": -65, "titleY": 436, "titleBaseline": "middle"}},
            "y2": {"field": "hi"},
            "color": {"field": "dur", "type": "nominal",
              "scale": {"domain": ["1 Month", "Year", "10 Years", "100 Years"], "range": ["#018571", "#80cdc1", "#dfc27d", "#a6611a"]},
              "legend": {"orient": "none", "legendX": 1437, "legendY": 59, "title": "Duration", "titleFont": "DejaVu Sans", "titleFontSize": 23, "titleFontWeight": "normal", "titlePadding": 13, "symbolType": "M-2,-0.7H2V0.7H-2Z", "symbolSize": 676, "symbolStrokeWidth": 0, "symbolOpacity": 1, "symbolOffset": 13, "labelFont": "DejaVu Sans", "labelFontSize": 23, "labelOffset": 35, "rowPadding": 11, "padding": 10, "fillColor": "white", "strokeColor": "#d6d6d6", "cornerRadius": 5, "encode": {"title": {"update": {"dx": {"value": 73}}}}}}
          }
        },
        {
          "data": {"name": "bands"},
          "transform": [{"filter": "datum.p == 'b' && datum.dur == '10 Years'"}],
          "mark": {"type": "area", "interpolate": "monotone", "opacity": 0.4},
          "encoding": {"x": {"field": "t", "type": "quantitative", "axis": null}, "y": {"field": "lo", "type": "quantitative", "axis": null}, "y2": {"field": "hi"}, "color": {"field": "dur", "type": "nominal", "legend": null}}
        },
        {
          "data": {"name": "bands"},
          "transform": [{"filter": "datum.p == 'b' && datum.dur == '10 Years'"}],
          "mark": {"type": "area", "interpolate": "monotone", "opacity": 0.75},
          "encoding": {"x": {"field": "t", "type": "quantitative", "axis": null}, "y": {"field": "lo", "type": "quantitative", "axis": null}, "y2": {"field": "mid"}, "color": {"field": "dur", "type": "nominal", "legend": null}}
        },
        {
          "data": {"name": "bands"},
          "transform": [{"filter": "datum.p == 'b' && datum.dur == 'Year'"}],
          "mark": {"type": "area", "interpolate": "monotone", "opacity": 0.95},
          "encoding": {"x": {"field": "t", "type": "quantitative", "axis": null}, "y": {"field": "lo", "type": "quantitative", "axis": null}, "y2": {"field": "hi"}, "color": {"field": "dur", "type": "nominal", "legend": null}}
        },
        {
          "data": {"name": "bands"},
          "transform": [{"filter": "datum.p == 'b' && datum.dur == '1 Month'"}],
          "mark": {"type": "area", "interpolate": "monotone"},
          "encoding": {"x": {"field": "t", "type": "quantitative", "axis": null}, "y": {"field": "lo", "type": "quantitative", "axis": null}, "y2": {"field": "hi"}, "color": {"field": "dur", "type": "nominal", "legend": null}}
        },
        {
          "data": {"name": "scatter"},
          "mark": {"type": "point", "filled": true, "color": "black", "size": 16, "opacity": 1},
          "encoding": {
            "x": {"field": "t", "type": "quantitative", "axis": null},
            "y": {"field": "v", "type": "quantitative", "axis": null},
            "shape": {"datum": "TropForC-db", "type": "nominal", "scale": {"range": ["circle"]},
              "legend": {"orient": "none", "legendX": 1170, "legendY": 60, "title": null, "symbolSize": 16, "symbolFillColor": "black", "symbolStrokeWidth": 0, "symbolOffset": 17, "labelFont": "DejaVu Sans", "labelFontSize": 24, "labelOffset": 31, "padding": 10, "fillColor": "white", "strokeColor": "#d6d6d6", "cornerRadius": 5}}
          }
        },
        {
          "data": {"name": "titles"},
          "transform": [{"filter": "datum.p == 'b'"}],
          "mark": {"type": "text", "align": "left", "baseline": "middle", "fontSize": 25.8, "fontWeight": "bold", "color": "#111111"},
          "encoding": {"x": {"datum": 0, "type": "quantitative", "axis": null}, "y": {"datum": 32.2, "type": "quantitative", "axis": null}, "text": {"field": "txt"}}
        }
      ]
    },
    {
      "resolve": {"axis": {"x": "independent", "y": "independent"}},
      "layer": [
        {
          "data": {"values": [{"x0": 0, "x1": 40, "y0": 0, "y1": 20}]},
          "mark": {"type": "rect", "fill": "white", "stroke": null},
          "encoding": {
            "x": {"field": "x0", "type": "quantitative",
              "scale": {"domain": [0, 40], "range": [1247, 1421], "nice": false, "zero": false},
              "axis": {"orient": "bottom", "offset": -576, "values": [0, 20, 40], "tickSize": 10, "tickWidth": 1.8, "labelFontSize": 23, "labelPadding": 8, "title": null, "zindex": 1}},
            "x2": {"field": "x1"},
            "y": {"field": "y0", "type": "quantitative",
              "scale": {"domain": [0, 20], "range": [341, 181], "nice": false, "zero": false},
              "axis": {"orient": "left", "offset": -1247, "values": [0, 10, 20], "tickSize": 10, "tickWidth": 1.8, "labelFontSize": 23, "labelPadding": 10, "title": null, "zindex": 1}},
            "y2": {"field": "y1"}
          }
        },
        {
          "data": {"name": "bands"},
          "transform": [{"filter": "datum.p == 'b' && datum.t <= 40 && datum.dur == '100 Years'"}],
          "mark": {"type": "area", "interpolate": "monotone"},
          "encoding": {"x": {"field": "t", "type": "quantitative", "axis": null}, "y": {"field": "lo", "type": "quantitative", "axis": null}, "y2": {"field": "hi"},
            "color": {"field": "dur", "type": "nominal", "scale": {"domain": ["1 Month", "Year", "10 Years", "100 Years"], "range": ["#018571", "#80cdc1", "#dfc27d", "#a6611a"]}, "legend": null}}
        },
        {
          "data": {"name": "bands"},
          "transform": [{"filter": "datum.p == 'b' && datum.t <= 40 && datum.dur == '10 Years'"}],
          "mark": {"type": "area", "interpolate": "monotone", "opacity": 0.4},
          "encoding": {"x": {"field": "t", "type": "quantitative", "axis": null}, "y": {"field": "lo", "type": "quantitative", "axis": null}, "y2": {"field": "hi"}, "color": {"field": "dur", "type": "nominal", "legend": null}}
        },
        {
          "data": {"name": "bands"},
          "transform": [{"filter": "datum.p == 'b' && datum.t <= 40 && datum.dur == '10 Years'"}],
          "mark": {"type": "area", "interpolate": "monotone", "opacity": 0.75},
          "encoding": {"x": {"field": "t", "type": "quantitative", "axis": null}, "y": {"field": "lo", "type": "quantitative", "axis": null}, "y2": {"field": "mid"}, "color": {"field": "dur", "type": "nominal", "legend": null}}
        },
        {
          "data": {"name": "bands"},
          "transform": [{"filter": "datum.p == 'b' && datum.t <= 40 && datum.dur == 'Year'"}],
          "mark": {"type": "area", "interpolate": "monotone", "opacity": 0.95},
          "encoding": {"x": {"field": "t", "type": "quantitative", "axis": null}, "y": {"field": "lo", "type": "quantitative", "axis": null}, "y2": {"field": "hi"}, "color": {"field": "dur", "type": "nominal", "legend": null}}
        },
        {
          "data": {"name": "bands"},
          "transform": [{"filter": "datum.p == 'b' && datum.t <= 40 && datum.dur == '1 Month'"}],
          "mark": {"type": "area", "interpolate": "monotone"},
          "encoding": {"x": {"field": "t", "type": "quantitative", "axis": null}, "y": {"field": "lo", "type": "quantitative", "axis": null}, "y2": {"field": "hi"}, "color": {"field": "dur", "type": "nominal", "legend": null}}
        },
        {
          "data": {"name": "scatter"},
          "transform": [{"filter": "datum.t <= 40 && datum.v <= 20"}],
          "mark": {"type": "point", "filled": true, "color": "black", "size": 16, "opacity": 1},
          "encoding": {"x": {"field": "t", "type": "quantitative", "axis": null}, "y": {"field": "v", "type": "quantitative", "axis": null}}
        },
        {
          "data": {"values": [{"x0": 0, "x1": 40, "y0": 0, "y1": 20}]},
          "mark": {"type": "rect", "fill": null, "fillOpacity": 0, "stroke": "#1a1a1a", "strokeWidth": 1.5},
          "encoding": {"x": {"field": "x0", "type": "quantitative", "axis": null}, "x2": {"field": "x1"}, "y": {"field": "y0", "type": "quantitative", "axis": null}, "y2": {"field": "y1"}}
        }
      ]
    },
    {
      "resolve": {"axis": {"x": "independent", "y": "independent"}},
      "layer": [
        {
          "data": {"name": "bands"},
          "transform": [{"filter": "datum.p == 'd' && datum.dur == '10 Years'"}],
          "mark": {"type": "area", "interpolate": "monotone", "opacity": 0.9},
          "encoding": {
            "x": {"field": "t", "type": "quantitative",
              "scale": {"domain": [0, 600], "range": [833, 1422], "nice": false, "zero": false},
              "axis": {"orient": "bottom", "offset": -84, "values": [0, 100, 200, 300, 400, 500, 600], "tickSize": 10, "tickWidth": 1.8, "labelFontSize": 23, "labelPadding": 12, "title": "Year Since Disturbance (yr)", "titleFontSize": 26, "titleY": 68, "titleBaseline": "middle"}},
            "y": {"field": "lo", "type": "quantitative",
              "scale": {"domain": [0, 30], "range": [833, 475], "nice": false, "zero": false},
              "axis": {"orient": "left", "offset": -833, "values": [0, 5, 10, 15, 20, 25, 30], "tickSize": 9, "tickWidth": 1.8, "labelFontSize": 23, "labelPadding": 10, "title": null}},
            "y2": {"field": "hi"},
            "color": {"field": "dur", "type": "nominal", "scale": {"domain": ["1 Month", "Year", "10 Years", "100 Years"], "range": ["#018571", "#80cdc1", "#dfc27d", "#a6611a"]}, "legend": null}
          }
        },
        {
          "data": {"name": "bands"},
          "transform": [{"filter": "datum.p == 'd' && datum.dur == '100 Years'"}],
          "mark": {"type": "area", "interpolate": "monotone"},
          "encoding": {"x": {"field": "t", "type": "quantitative", "axis": null}, "y": {"field": "lo", "type": "quantitative", "axis": null}, "y2": {"field": "hi"}, "color": {"field": "dur", "type": "nominal", "legend": null}}
        },
        {
          "data": {"name": "bands"},
          "transform": [{"filter": "datum.p == 'd' && datum.dur == 'Year'"}],
          "mark": {"type": "area", "interpolate": "monotone", "opacity": 0.3},
          "encoding": {"x": {"field": "t", "type": "quantitative", "axis": null}, "y": {"field": "lo", "type": "quantitative", "axis": null}, "y2": {"field": "hi"}, "color": {"field": "dur", "type": "nominal", "legend": null}}
        },
        {
          "data": {"name": "bands"},
          "transform": [{"filter": "datum.p == 'd' && datum.dur == 'Year'"}],
          "mark": {"type": "area", "interpolate": "monotone", "opacity": 0.85},
          "encoding": {"x": {"field": "t", "type": "quantitative", "axis": null}, "y": {"field": "mid", "type": "quantitative", "axis": null}, "y2": {"field": "hi"}, "color": {"field": "dur", "type": "nominal", "legend": null}}
        },
        {
          "data": {"name": "bands"},
          "transform": [{"filter": "datum.p == 'd' && datum.dur == '1 Month'"}],
          "mark": {"type": "area", "interpolate": "monotone"},
          "encoding": {"x": {"field": "t", "type": "quantitative", "axis": null}, "y": {"field": "lo", "type": "quantitative", "axis": null}, "y2": {"field": "hi"}, "color": {"field": "dur", "type": "nominal", "legend": null}}
        },
        {
          "data": {"name": "scatter"},
          "mark": {"type": "point", "filled": true, "color": "black", "size": 16, "opacity": 1},
          "encoding": {"x": {"field": "t", "type": "quantitative", "axis": null}, "y": {"field": "v", "type": "quantitative", "axis": null}}
        },
        {
          "data": {"name": "titles"},
          "transform": [{"filter": "datum.p == 'd'"}],
          "mark": {"type": "text", "align": "left", "baseline": "middle", "fontSize": 25.8, "fontWeight": "bold", "color": "#111111"},
          "encoding": {"x": {"datum": 0, "type": "quantitative", "axis": null}, "y": {"datum": 32.3, "type": "quantitative", "axis": null}, "text": {"field": "txt"}}
        }
      ]
    },
    {
      "resolve": {"axis": {"x": "independent", "y": "independent"}},
      "layer": [
        {
          "data": {"values": [{"x0": 0, "x1": 40, "y0": 0, "y1": 20}]},
          "mark": {"type": "rect", "fill": "white", "stroke": null},
          "encoding": {
            "x": {"field": "x0", "type": "quantitative",
              "scale": {"domain": [0, 40], "range": [1247, 1421], "nice": false, "zero": false},
              "axis": {"orient": "bottom", "offset": -148, "values": [0, 20, 40], "tickSize": 10, "tickWidth": 1.8, "labelFontSize": 23, "labelPadding": 8, "title": null, "zindex": 1}},
            "x2": {"field": "x1"},
            "y": {"field": "y0", "type": "quantitative",
              "scale": {"domain": [0, 20], "range": [769, 609], "nice": false, "zero": false},
              "axis": {"orient": "left", "offset": -1247, "values": [0, 10, 20], "tickSize": 10, "tickWidth": 1.8, "labelFontSize": 23, "labelPadding": 10, "title": null, "zindex": 1}},
            "y2": {"field": "y1"}
          }
        },
        {
          "data": {"name": "bands"},
          "transform": [{"filter": "datum.p == 'd' && datum.t <= 40 && datum.dur == '10 Years'"}],
          "mark": {"type": "area", "interpolate": "monotone", "opacity": 0.9},
          "encoding": {"x": {"field": "t", "type": "quantitative", "axis": null}, "y": {"field": "lo", "type": "quantitative", "axis": null}, "y2": {"field": "hi"},
            "color": {"field": "dur", "type": "nominal", "scale": {"domain": ["1 Month", "Year", "10 Years", "100 Years"], "range": ["#018571", "#80cdc1", "#dfc27d", "#a6611a"]}, "legend": null}}
        },
        {
          "data": {"name": "bands"},
          "transform": [{"filter": "datum.p == 'd' && datum.t <= 40 && datum.dur == '100 Years'"}],
          "mark": {"type": "area", "interpolate": "monotone"},
          "encoding": {"x": {"field": "t", "type": "quantitative", "axis": null}, "y": {"field": "lo", "type": "quantitative", "axis": null}, "y2": {"field": "hi"}, "color": {"field": "dur", "type": "nominal", "legend": null}}
        },
        {
          "data": {"name": "bands"},
          "transform": [{"filter": "datum.p == 'd' && datum.t <= 40 && datum.dur == 'Year'"}],
          "mark": {"type": "area", "interpolate": "monotone", "opacity": 0.3},
          "encoding": {"x": {"field": "t", "type": "quantitative", "axis": null}, "y": {"field": "lo", "type": "quantitative", "axis": null}, "y2": {"field": "hi"}, "color": {"field": "dur", "type": "nominal", "legend": null}}
        },
        {
          "data": {"name": "bands"},
          "transform": [{"filter": "datum.p == 'd' && datum.t <= 40 && datum.dur == 'Year'"}],
          "mark": {"type": "area", "interpolate": "monotone", "opacity": 0.85},
          "encoding": {"x": {"field": "t", "type": "quantitative", "axis": null}, "y": {"field": "mid", "type": "quantitative", "axis": null}, "y2": {"field": "hi"}, "color": {"field": "dur", "type": "nominal", "legend": null}}
        },
        {
          "data": {"name": "bands"},
          "transform": [{"filter": "datum.p == 'd' && datum.t <= 40 && datum.dur == '1 Month'"}],
          "mark": {"type": "area", "interpolate": "monotone"},
          "encoding": {"x": {"field": "t", "type": "quantitative", "axis": null}, "y": {"field": "lo", "type": "quantitative", "axis": null}, "y2": {"field": "hi"}, "color": {"field": "dur", "type": "nominal", "legend": null}}
        },
        {
          "data": {"name": "scatter"},
          "transform": [{"filter": "datum.t <= 40 && datum.v <= 20"}],
          "mark": {"type": "point", "filled": true, "color": "black", "size": 16, "opacity": 1},
          "encoding": {"x": {"field": "t", "type": "quantitative", "axis": null}, "y": {"field": "v", "type": "quantitative", "axis": null}}
        },
        {
          "data": {"values": [{"x0": 0, "x1": 40, "y0": 0, "y1": 20}]},
          "mark": {"type": "rect", "fill": null, "fillOpacity": 0, "stroke": "#1a1a1a", "strokeWidth": 1.5},
          "encoding": {"x": {"field": "x0", "type": "quantitative", "axis": null}, "x2": {"field": "x1"}, "y": {"field": "y0", "type": "quantitative", "axis": null}, "y2": {"field": "y1"}}
        }
      ]
    }
  ]
}
